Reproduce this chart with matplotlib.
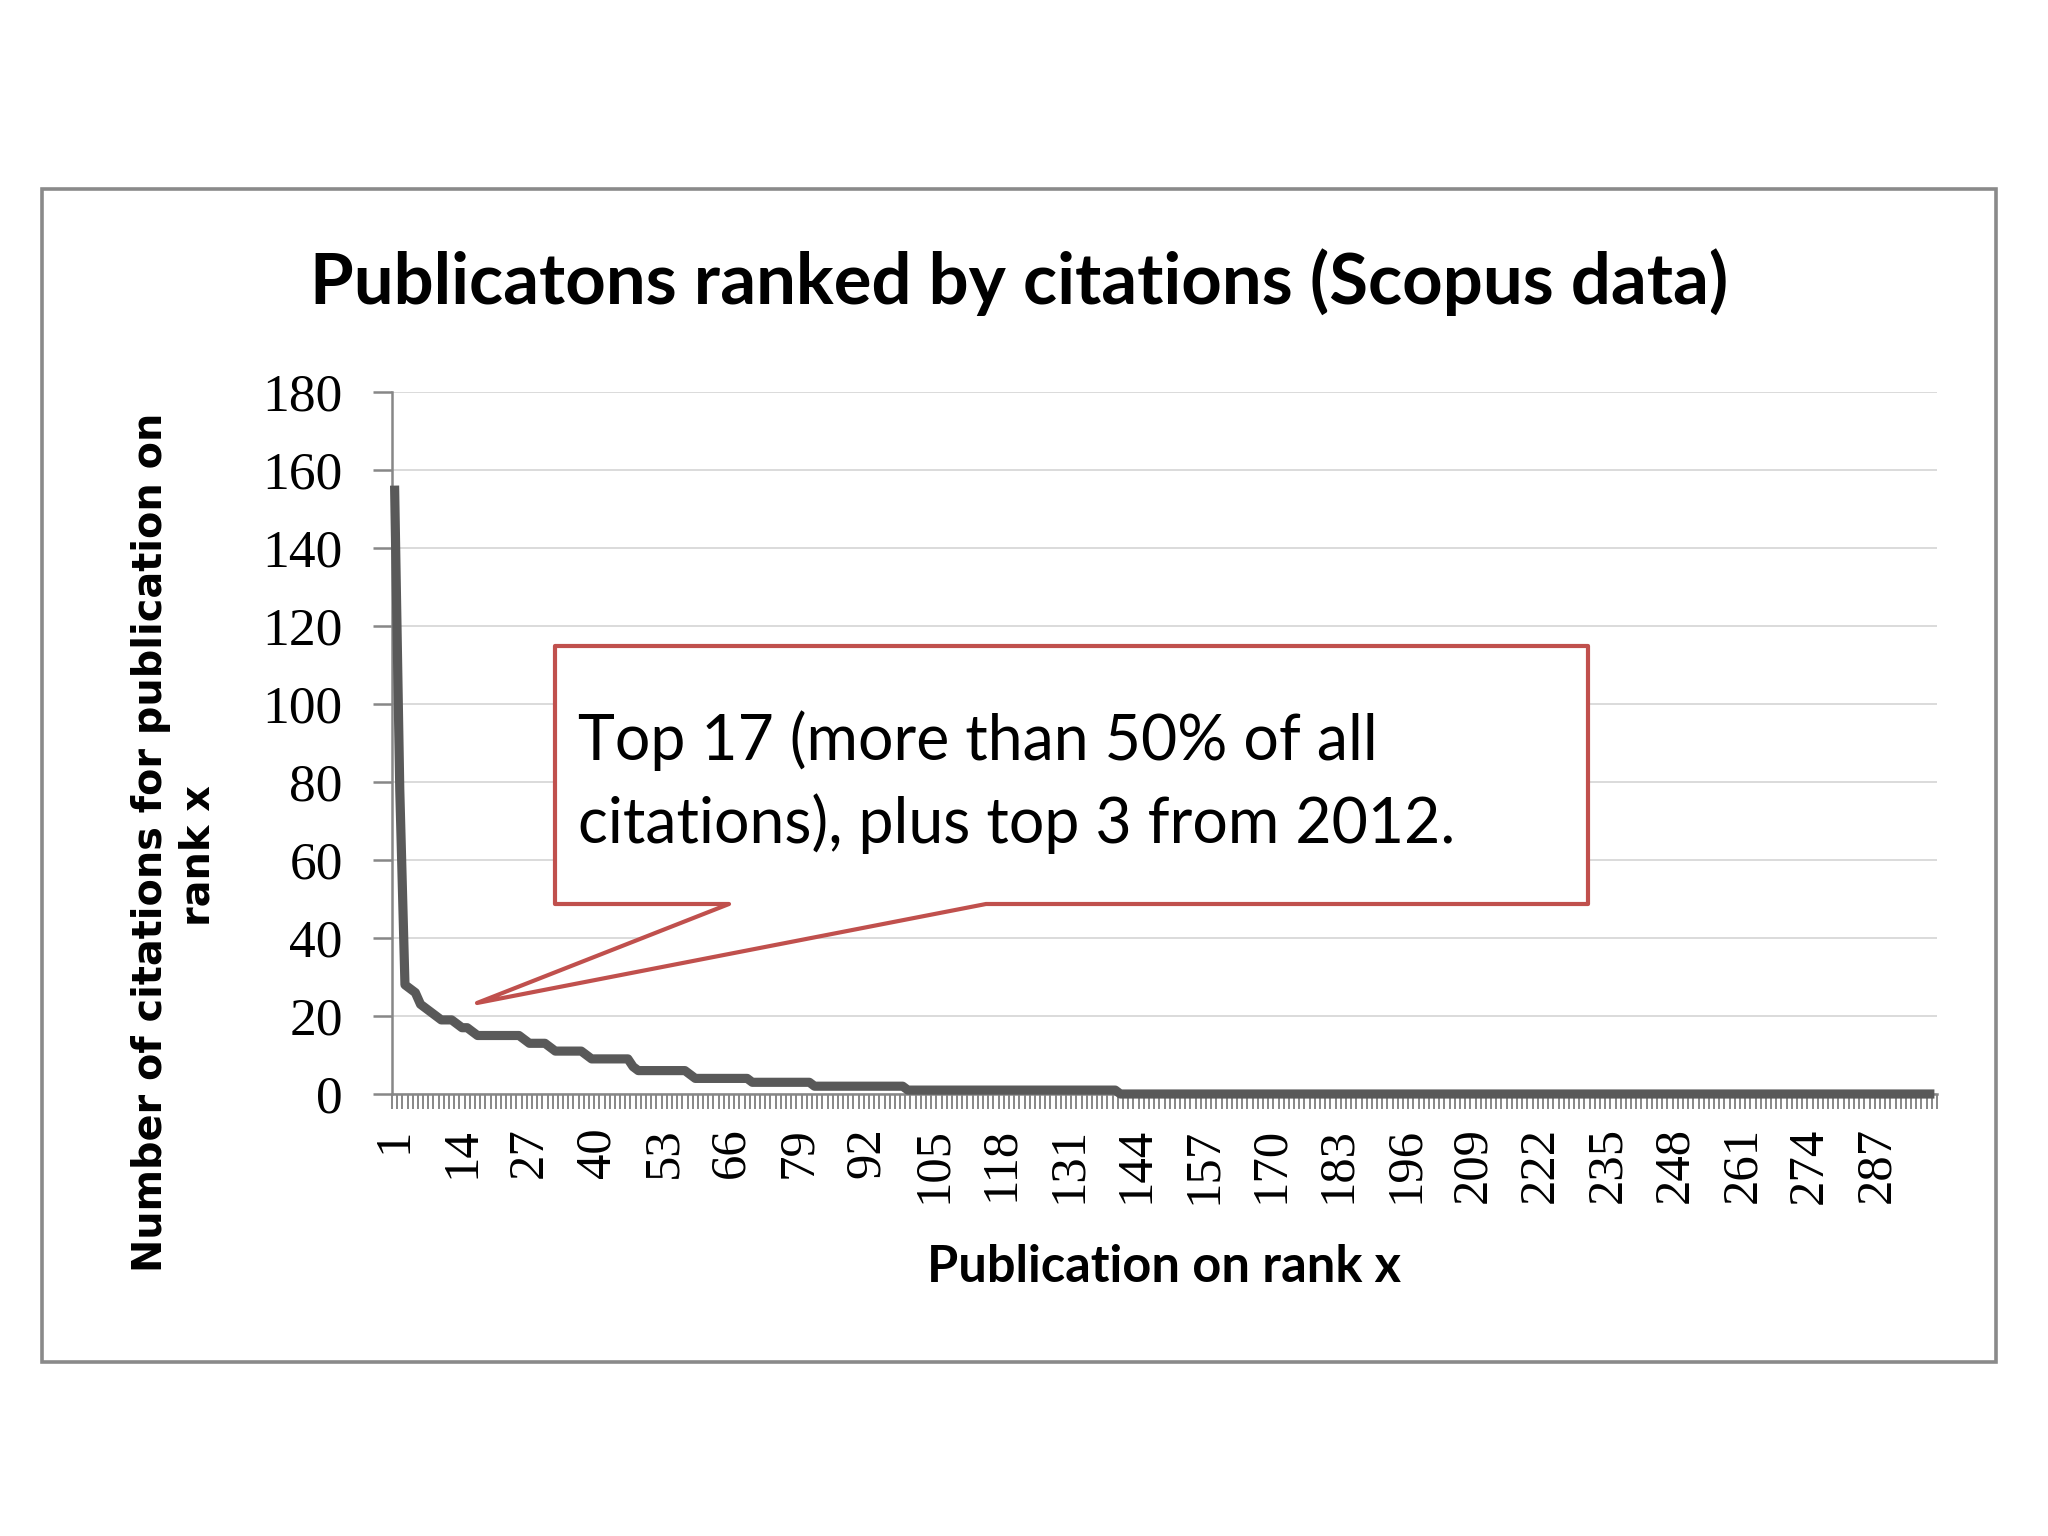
import matplotlib
matplotlib.use("Agg")
import matplotlib.pyplot as plt
from matplotlib.patches import Rectangle, Polygon

# ---------------- data ----------------
ranks = list(range(1, 299))
citations = [
    156, 78, 28, 27, 26, 23, 22, 21, 20, 19, 19, 19, 18, 17, 17, 16, 15, 15, 15, 15,
    15, 15, 15, 15, 15, 14, 13, 13, 13, 13, 12, 11, 11, 11, 11, 11, 11, 10, 9, 9,
    9, 9, 9, 9, 9, 9, 7, 6, 6, 6, 6, 6, 6, 6, 6, 6, 6, 5, 4, 4,
    4, 4, 4, 4, 4, 4, 4, 4, 4, 3, 3, 3, 3, 3, 3, 3, 3, 3, 3, 3,
    3, 2, 2, 2, 2, 2, 2, 2, 2, 2, 2, 2, 2, 2, 2, 2, 2, 2, 2, 1,
    1, 1, 1, 1, 1, 1, 1, 1, 1, 1, 1, 1, 1, 1, 1, 1, 1, 1, 1, 1,
    1, 1, 1, 1, 1, 1, 1, 1, 1, 1, 1, 1, 1, 1, 1, 1, 1, 1, 1, 1,
    0, 0, 0, 0, 0, 0, 0, 0, 0, 0, 0, 0, 0, 0, 0, 0, 0, 0, 0, 0,
    0, 0, 0, 0, 0, 0, 0, 0, 0, 0, 0, 0, 0, 0, 0, 0, 0, 0, 0, 0,
    0, 0, 0, 0, 0, 0, 0, 0, 0, 0, 0, 0, 0, 0, 0, 0, 0, 0, 0, 0,
    0, 0, 0, 0, 0, 0, 0, 0, 0, 0, 0, 0, 0, 0, 0, 0, 0, 0, 0, 0,
    0, 0, 0, 0, 0, 0, 0, 0, 0, 0, 0, 0, 0, 0, 0, 0, 0, 0, 0, 0,
    0, 0, 0, 0, 0, 0, 0, 0, 0, 0, 0, 0, 0, 0, 0, 0, 0, 0, 0, 0,
    0, 0, 0, 0, 0, 0, 0, 0, 0, 0, 0, 0, 0, 0, 0, 0, 0, 0, 0, 0,
    0, 0, 0, 0, 0, 0, 0, 0, 0, 0, 0, 0, 0, 0, 0, 0, 0, 0,
]
x_tick_labels = [1, 14, 27, 40, 53, 66, 79, 92, 105, 118, 131, 144, 157, 170,
                 183, 196, 209, 222, 235, 248, 261, 274, 287]
y_ticks = [0, 20, 40, 60, 80, 100, 120, 140, 160, 180]

title = "Publicatons ranked by citations (Scopus data)"
ylabel_1 = "Number of citations for publication on"
ylabel_2 = "rank x"
xlabel = "Publication on rank x"
note_1 = "Top 17 (more than 50% of all"
note_2 = "citations), plus top 3 from 2012."

# ---------------- figure ----------------
W, H = 2048, 1536
fig = plt.figure(figsize=(W / 100, H / 100), dpi=100)
fig.patch.set_facecolor("white")

ax_l, ax_r, ax_t, ax_b = 392, 1937, 392, 1094
ax = fig.add_axes([ax_l / W, 1 - ax_b / H, (ax_r - ax_l) / W, (ax_b - ax_t) / H])

GRAY = "#878787"
ax.plot(ranks, citations, color="#595959", lw=6.6, solid_joinstyle="round",
        solid_capstyle="butt", zorder=3, clip_on=False)

n = len(ranks)
ax.set_xlim(0.5, n + 0.5)
ax.set_ylim(0, 180)

ax.set_yticks(y_ticks)
ax.set_yticklabels([str(v) for v in y_ticks], fontfamily="Liberation Serif",
                   fontsize=38.5)
ax.tick_params(axis="y", direction="out", length=13.5, width=1.8, color=GRAY,
               pad=22)
ax.yaxis.grid(True, color="#d4d4d4", lw=1.2)
ax.set_axisbelow(True)

# category boundary ticks (major, unlabelled) and label ticks (minor)
ax.set_xticks([r - 0.5 for r in ranks] + [ranks[-1] + 0.5])
ax.set_xticklabels([])
ax.tick_params(axis="x", which="major", direction="out", length=10.8,
               width=1.4, color=GRAY)
ax.set_xticks(x_tick_labels, minor=True)
ax.set_xticklabels([str(v) for v in x_tick_labels], minor=True,
                   fontfamily="Liberation Serif", fontsize=36.5, rotation=90,
                   va="top", ha="center")
ax.tick_params(axis="x", which="minor", length=0, pad=24)

for s in ["top", "right"]:
    ax.spines[s].set_visible(False)
for s in ["left", "bottom"]:
    ax.spines[s].set_color(GRAY)
    ax.spines[s].set_linewidth(1.8)

# ---------------- overlay in pixel coordinates ----------------
ov = fig.add_axes([0, 0, 1, 1], zorder=5)
ov.set_xlim(0, W)
ov.set_ylim(H, 0)
ov.axis("off")
ov.patch.set_alpha(0)

ov.add_patch(Rectangle((42, 189), 1996 - 42, 1362 - 189, fill=False,
                       edgecolor="#8a8a8a", lw=2.6))

RED = "#c0504d"
callout = [(555, 646), (1588, 646), (1588, 904), (986, 904), (477, 1003),
           (729, 904), (555, 904)]
ov.add_patch(Polygon(callout, closed=True, facecolor="white", edgecolor=RED,
                     lw=3.0, joinstyle="round"))

renderer = fig.canvas.get_renderer()


def fit(t, target, use_height=False):
    bb = t.get_window_extent(renderer)
    size = bb.height if use_height else bb.width
    t.set_fontsize(t.get_fontsize() * target / size)
    return t.get_fontsize()


t_title = ov.text(1019, 304, title, fontfamily="Lato", fontweight="bold",
                  fontsize=44, ha="center", va="baseline")
fit(t_title, 1418)

t_y1 = ov.text(162, 842, ylabel_1, fontfamily="DejaVu Sans", fontweight="bold",
               fontsize=26, rotation=90, rotation_mode="anchor", ha="center",
               va="baseline")
fs = fit(t_y1, 858, use_height=True)
ov.text(210, 856, ylabel_2, fontfamily="DejaVu Sans", fontweight="bold",
        fontsize=fs, rotation=90, rotation_mode="anchor", ha="center",
        va="baseline")

t_x = ov.text(1164, 1282, xlabel, fontfamily="Lato", fontweight="bold",
              fontsize=36, ha="center", va="baseline")
fit(t_x, 473)

t_n2 = ov.text(578, 843, note_2, fontfamily="Lato", fontsize=44, ha="left",
               va="baseline")
fs = fit(t_n2, 878)
ov.text(578, 760, note_1, fontfamily="Lato", fontsize=fs, ha="left",
        va="baseline")

fig.savefig("out.png", dpi=100)
